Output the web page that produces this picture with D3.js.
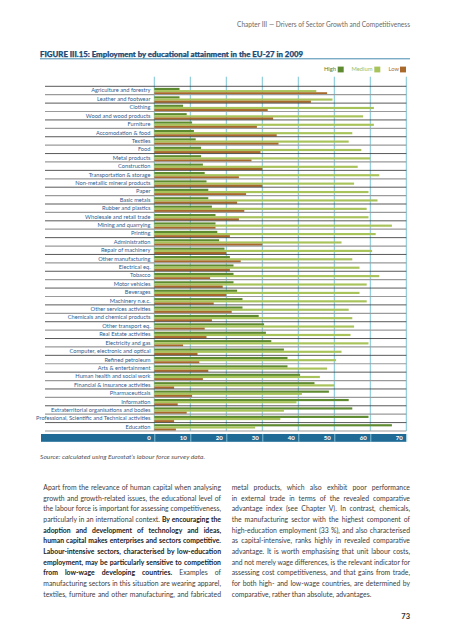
<!DOCTYPE html>
<html><head><meta charset="utf-8">
<script src="https://cdn.jsdelivr.net/npm/d3@7"></script>
<style>html,body{margin:0;padding:0;background:#fff;}svg{display:block;}</style>
</head><body>
<script>
const categories = ["Agriculture and forestry","Leather and footwear","Clothing","Wood and wood products","Furniture","Accomodation & food","Textiles","Food","Metal products","Construction","Transportation & storage","Non-metallic mineral products","Paper","Basic metals","Rubber and plastics","Wholesale and retail trade","Mining and quarrying","Printing","Administration","Repair of machinery","Other manufacturing","Electrical eq.","Tobacco","Motor vehicles","Beverages","Machinery n.e.c.","Other services activities","Chemicals and chemical products","Other transport eq.","Real Estate activities","Electricity and gas","Computer, electronic and optical","Refined petroleum","Arts & entertainment","Human health and social work","Financial & insurance activities","Pharmaceuticals","Information","Extraterritorial organisations and bodies","Professional, Scientific and Technical activities","Education"];
const high   = [7,7,8,9,10.5,11,11.5,13,13,13.5,14,14.5,15,15,16,17,17,17.5,18,19.5,21,22,22,22,23,24.5,24.5,29,30.5,31,32.5,36,37,37,40.5,44.5,48.5,54,55,59.5,66];
const medium = [45,49.5,61,58,61,55,54,57.5,60,56.5,62.5,55.5,59.5,62,59,59.5,66,61.5,52,60.5,55,57,62.5,59,57,59,54,55,55.5,54.5,59.5,52,50.5,48,46,50,41,39.5,36,35,28];
const low    = [48,43.5,31.5,33,28.5,34,34.5,29.5,27,30,23.5,30,25.5,23,25,23.5,17,21,30,20,24,21,15.5,19,20,16.5,21.5,16,14,14.5,8,12,12.5,15,13.5,5.5,10.5,6.5,9,5.5,6];
const seriesNames = ["High","Medium","Low"];
const tickValues = [0,10,20,30,40,50,60,70];

const colors = {High:"#5e8a30", Medium:"#a9c35b", Low:"#a8692b"};
const textColors = {High:"#4f7d2a", Medium:"#a2bd52", Low:"#b0713a"};

const W = 453, H = 640;
const svg = d3.select("body").append("svg").attr("width", W).attr("height", H);

// header
svg.append("text").attr("x", 410).attr("y", 27).attr("text-anchor","end")
  .attr("font-family","Lato").attr("font-size",6.6).attr("fill","#6a6a6a")
  .attr("textLength",173).attr("lengthAdjust","spacingAndGlyphs")
  .text("Chapter III — Drivers of Sector Growth and Competitiveness");

// title
svg.append("text").attr("x", 40).attr("y", 56.5)
  .attr("font-family","Lato").attr("font-weight","900").attr("font-size",7.6).attr("fill","#1b4a76")
  .attr("stroke","#1b4a76").attr("stroke-width",0.25)
  .attr("textLength",263).attr("lengthAdjust","spacingAndGlyphs")
  .text("FIGURE III.15: Employment by educational attainment in the EU-27 in 2009");
svg.append("line").attr("x1",40).attr("x2",410).attr("y1",58.8).attr("y2",58.8)
  .attr("stroke","#2f7ea6").attr("stroke-width",0.9);

// scales
const x = d3.scaleLinear().domain([0,70]).range([154.3,406.3]);
const y = d3.scaleBand().domain(categories).range([86.3,431]).paddingInner(0).paddingOuter(0);
const yi = d3.scaleBand().domain(seriesNames).range([1.6, y.bandwidth()-0.3]).padding(0);

const data = categories.map((c,i)=>({cat:c, High:high[i], Medium:medium[i], Low:low[i]}));

// vertical gridlines
svg.append("g").selectAll("line").data(tickValues).join("line")
  .attr("x1",d=>x(d)).attr("x2",d=>x(d)).attr("y1",76.7).attr("y2",431)
  .attr("stroke","#58b5cc").attr("stroke-width",0.8);

// bars
const rows = svg.append("g").selectAll("g").data(data).join("g")
  .attr("transform",d=>`translate(0,${y(d.cat)})`);
rows.selectAll("rect").data(d=>seriesNames.map(s=>({s, v:d[s]}))).join("rect")
  .attr("x", x(0)).attr("y", d=>yi(d.s)).attr("height", yi.bandwidth())
  .attr("width", d=>x(d.v)-x(0)).attr("fill", d=>colors[d.s]);

// separators
const sepY = categories.map(c=>y(c)).concat([y.range()[1]]);
svg.append("g").selectAll("line").data(sepY).join("line")
  .attr("x1",45).attr("x2",406.3).attr("y1",d=>d).attr("y2",d=>d)
  .attr("stroke",(d,i)=> i%2===0 ? "#2e2e2e" : "#9a9a9a")
  .attr("stroke-width",(d,i)=> i%2===0 ? 0.8 : 1.2);

// category labels
svg.append("g").selectAll("text").data(categories).join("text")
  .attr("x",150.5).attr("y",d=>y(d)+y.bandwidth()/2).attr("dy","0.35em")
  .attr("text-anchor","end").attr("font-family","Lato").attr("font-size",5.7)
  .attr("fill","#2c5d90").text(d=>d);

// legend
const legendItems = [
  {s:"High", tx:336, bx:337.7},
  {s:"Medium", tx:372.5, bx:374.3},
  {s:"Low", tx:399, bx:400}
];
const lg = svg.append("g");
legendItems.forEach(it=>{
  lg.append("text").attr("x",it.tx).attr("y",69.4).attr("dy","0.35em").attr("text-anchor","end")
    .attr("font-family","Lato").attr("font-size",5.8).attr("fill",textColors[it.s]).text(it.s);
  lg.append("rect").attr("x",it.bx).attr("y",66.6).attr("width",6).attr("height",5.8).attr("fill",colors[it.s]);
});

// axis band
svg.append("rect").attr("x",41).attr("y",434).attr("width",406.3-41).attr("height",7.8).attr("fill","#1f6b96");
const axis = d3.axisBottom(x).tickValues(tickValues).tickSize(0).tickFormat(d3.format("d"));
const ag = svg.append("g").attr("transform","translate(0,434)").call(axis);
ag.select(".domain").remove();
ag.selectAll(".tick line").attr("y1",0).attr("y2",7.8).attr("stroke","#9fd3e3").attr("stroke-width",0.8);
ag.selectAll(".tick text").attr("x",-4).attr("y",3.9).attr("dy","0.35em").attr("text-anchor","end")
  .attr("font-family","Lato").attr("font-weight","bold").attr("font-size",6).attr("fill","#ffffff");

// source
svg.append("text").attr("x",40).attr("y",458.5)
  .attr("font-family","Lato").attr("font-style","italic").attr("font-size",6.3).attr("fill","#555")
  .attr("textLength",165).attr("lengthAdjust","spacingAndGlyphs")
  .text("Source: calculated using Eurostat’s labour force survey data.");

// body text
const leftLines = [
  [["Apart from the relevance of human capital when analysing",0]],
  [["growth and growth-related issues, the educational level of",0]],
  [["the labour force is important for assessing competitiveness,",0]],
  [["particularly in an international context. ",0],["By encouraging the",1]],
  [["adoption and development of technology and ideas,",1]],
  [["human capital makes enterprises and sectors competitive.",1]],
  [["Labour-intensive sectors, characterised by low-education",1]],
  [["employment, may be particularly sensitive to competition",1]],
  [["from low-wage developing countries.",1],[" Examples of",0]],
  [["manufacturing sectors in this situation are wearing apparel,",0]],
  [["textiles, furniture and other manufacturing, and fabricated",0]]
];
const rightLines = [
  [["metal products, which also exhibit poor performance",0]],
  [["in external trade in terms of the revealed comparative",0]],
  [["advantage index (see Chapter V). In contrast, chemicals,",0]],
  [["the manufacturing sector with the highest component of",0]],
  [["high-education employment (33 %), and also characterised",0]],
  [["as capital-intensive, ranks highly in revealed comparative",0]],
  [["advantage. It is worth emphasising that unit labour costs,",0]],
  [["and not merely wage differences, is the relevant indicator for",0]],
  [["assessing cost competitiveness, and that gains from trade,",0]],
  [["for both high- and low-wage countries, are determined by",0]],
  [["comparative, rather than absolute, advantages.",0]]
];
function drawColumn(lines, x0, x1, lastJustified){
  lines.forEach((segs,i)=>{
    const t = svg.append("text").attr("x",x0).attr("y",489.8+i*10.7)
      .attr("font-family","Lato").attr("font-size",6.85).attr("fill","#3d3d3d");
    segs.forEach(([s,b])=>{
      t.append("tspan").attr("font-weight", b? "bold":"normal").attr("fill", b? "#222":"#3d3d3d").text(s);
    });
    const justify = (i < lines.length-1) || lastJustified;
    if(justify){
      const full = segs.map(s=>s[0]).join("");
      const spaces = (full.trim().match(/ /g)||[]).length;
      const w = t.node().getComputedTextLength();
      const gap = x1-x0-w;
      if(gap < 0){
        t.attr("textLength", x1-x0).attr("lengthAdjust","spacingAndGlyphs");
      } else if(spaces>0){
        t.attr("word-spacing", gap/spaces);
      }
    }
  });
}
drawColumn(leftLines, 43.3, 221, true);
drawColumn(rightLines, 231.7, 410, false);

svg.append("text").attr("x",410).attr("y",618.5).attr("text-anchor","end")
  .attr("font-family","Lato").attr("font-weight","bold").attr("font-size",7.5).attr("fill","#333").text("73");
</script>
</body></html>
